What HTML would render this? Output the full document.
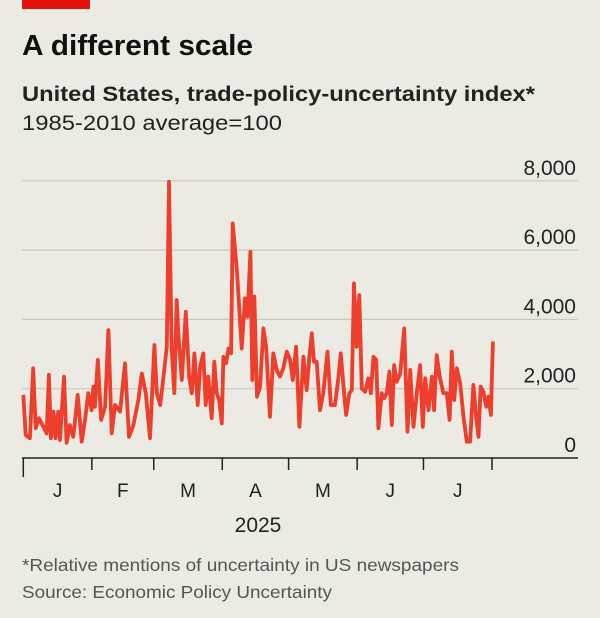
<!DOCTYPE html>
<html><head><meta charset="utf-8"><style>
html,body{margin:0;padding:0;background:#ecebe3;}
svg{display:block;font-family:"Liberation Sans",sans-serif;}
</style></head><body>
<svg id="chart" width="600" height="618" viewBox="0 0 600 618">
<rect x="0" y="0" width="600" height="618" fill="#ecebe3"/>
<rect x="22" y="0" width="68" height="9" fill="#e3120b"/>
<text x="22" y="55" font-size="29" font-weight="bold" fill="#111" textLength="231" lengthAdjust="spacingAndGlyphs">A different scale</text>
<text x="22" y="101" font-size="21" font-weight="bold" fill="#222" textLength="513" lengthAdjust="spacingAndGlyphs">United States, trade-policy-uncertainty index*</text>
<text x="22" y="130" font-size="21" fill="#222" textLength="260" lengthAdjust="spacingAndGlyphs">1985-2010 average=100</text>
<g id="grid"></g>
<g id="ylabels"></g>
<g id="xaxis"></g>
<path id="line" fill="none" stroke="#ee3e2c" stroke-width="3.8" stroke-linejoin="round"/>
<text x="258" y="532" font-size="21" fill="#222" text-anchor="middle">2025</text>
<text x="22" y="571" font-size="17.5" fill="#555" textLength="437" lengthAdjust="spacingAndGlyphs">*Relative mentions of uncertainty in US newspapers</text>
<text x="22" y="598" font-size="17.5" fill="#555" textLength="310" lengthAdjust="spacingAndGlyphs">Source: Economic Policy Uncertainty</text>
</svg>
<script>
const days = [0,1.1,3.0,4.5,5.6,7.1,9.1,10.6,11.6,12.5,13.6,14.6,15.8,16.6,18.4,19.6,21.1,22.6,24.6,26.4,27.9,29.4,30.9,31.7,32.4,33.7,35.2,37,38.5,40,41.5,43.8,46,47.8,49.8,52,53.6,55.4,57.3,59.3,60.4,61.9,63.4,64.9,65.9,67.1,68.3,69.4,70.1,71.7,73.5,75,76.2,77.4,78.9,80,81.4,82.5,83.7,85.2,86.4,87.5,88.6,89.8,90.5,91.7,92.8,94,94.7,96.6,98.8,100.3,101.4,102.7,103.6,104.5,105.7,107.1,108.6,109.8,111.6,113.1,114.6,116.1,117.6,119.2,120.7,121.9,123.4,124.9,126.7,128.2,129.4,130.5,131.5,132.7,134.2,135.7,137.6,139.1,141,142.5,143.6,145.1,146,147.5,148.6,149.6,150.8,152,153.1,154.6,156.1,157.2,158.4,159.6,160.6,162.1,163.2,164.4,165.6,166.7,167.7,168.9,170.5,172.3,173.8,175,176.5,178,179.5,180.7,181.8,183.3,184.8,185.8,187,188.5,190,191.5,192.8,193.8,194.9,196.1,197.6,199.1,200.6,202.1,203.6,204.8,205.9,206.9,208.1,209.4,210.4,211.5,212.4];
const values = [1820,660,570,2590,860,1150,900,710,2400,570,1340,570,1340,520,2350,440,950,610,1820,470,1100,1870,1380,2060,1480,2830,1100,1480,3690,710,1530,1340,2730,610,950,1670,2440,1870,570,3260,1870,1530,2350,3210,7970,3210,1870,4560,3600,2250,4220,2350,1870,3020,1530,2640,3020,1530,2350,1150,2780,1870,1670,1000,2920,2730,3160,3020,6770,5430,3160,4610,4080,5950,2250,4660,1770,2060,3740,3210,1190,3020,2540,2350,2590,3070,2830,2250,3210,900,2920,1960,2920,3600,2780,2780,1380,1870,3070,1530,1530,2300,3020,1870,1240,1870,1960,5040,3210,4700,2010,1910,2300,1870,2920,2830,860,1870,1720,1870,2490,950,2680,2200,2440,3740,760,2540,900,1870,2680,900,2300,1380,2350,1380,2970,2300,1870,1870,1100,3070,1670,2590,2150,1190,470,470,2110,1190,610,2060,1910,1480,1770,1240,3360];
const yTicks = [0,2000,4000,6000,8000];
const yTickLabels = ["0","2,000","4,000","6,000","8,000"];
const monthStarts = [0,31,59,90,120,151,181,212];
const monthLabels = ["J","F","M","A","M","J","J"];

const X0=23.3, X1=492, D0=0, D1=212, Y0=458, YPER=69.3/2000;
function xs(d){return X0+(d-D0)/(D1-D0)*(X1-X0);}
function ys(v){return Y0-v*YPER;}
const NS="http://www.w3.org/2000/svg";
const grid=document.getElementById('grid'), yl=document.getElementById('ylabels'), xa=document.getElementById('xaxis');
yTicks.forEach((t,i)=>{
  if(t>0){
    const l=document.createElementNS(NS,'line');
    
    
    l.setAttribute('x1',22);l.setAttribute('x2',578);
    l.setAttribute('y1',ys(t));l.setAttribute('y2',ys(t));
    l.setAttribute('stroke','#c9c7bf');l.setAttribute('stroke-width','1.2');
    grid.appendChild(l);
  }
  const tx=document.createElementNS(NS,'text');
  
  
  tx.setAttribute('x',576);tx.setAttribute('y',ys(t)-6);
  tx.setAttribute('text-anchor','end');tx.setAttribute('font-size','21');tx.setAttribute('fill','#222');
  tx.textContent=yTickLabels[i];
  yl.appendChild(tx);
});
const base=document.createElementNS(NS,'line');


base.setAttribute('x1',22);base.setAttribute('x2',578);base.setAttribute('y1',Y0);base.setAttribute('y2',Y0);
base.setAttribute('stroke','#222');base.setAttribute('stroke-width','1.5');
xa.appendChild(base);
monthStarts.forEach((d,i)=>{
  const tk=document.createElementNS(NS,'line');
  
  
  tk.setAttribute('x1',xs(d));tk.setAttribute('x2',xs(d));
  tk.setAttribute('y1',Y0);tk.setAttribute('y2',i===0?Y0+19:Y0+12);
  tk.setAttribute('stroke','#222');tk.setAttribute('stroke-width','1.5');
  xa.appendChild(tk);
  if(i<monthLabels.length){
    const tx=document.createElementNS(NS,'text');
    
    
    tx.setAttribute('x',(xs(d)+xs(monthStarts[i+1]))/2);tx.setAttribute('y',497);
    tx.setAttribute('text-anchor','middle');tx.setAttribute('font-size','19');tx.setAttribute('fill','#222');
    tx.textContent=monthLabels[i];
    xa.appendChild(tx);
  }
});
let dstr='';
days.forEach((d,i)=>{dstr+=(i?'L':'M')+xs(d).toFixed(1)+','+ys(values[i]).toFixed(1);});
document.getElementById('line').setAttribute('d',dstr);
</script>
</body></html>
